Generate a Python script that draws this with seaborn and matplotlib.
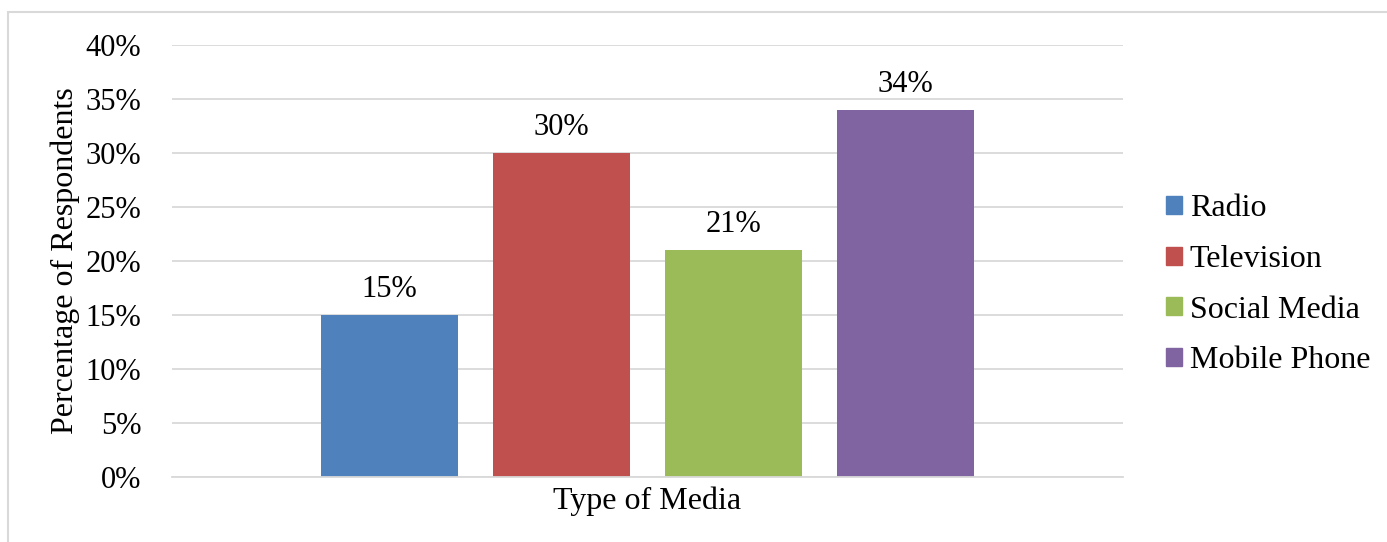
import matplotlib
matplotlib.use("Agg")
import matplotlib.pyplot as plt
import matplotlib.patches as mpatches
import seaborn as sns
import pandas as pd
from matplotlib.ticker import PercentFormatter

# Survey results: preferred type of media
media = ["Radio", "Television", "Social Media", "Mobile Phone"]
share = [15, 30, 21, 34]
colors = ["#4F81BD", "#C0504D", "#9BBB59", "#8064A2"]
y_ticks = [0, 5, 10, 15, 20, 25, 30, 35, 40]

df = pd.DataFrame({"group": ["Type of Media"] * len(media),
                   "media": media, "share": share})

sns.set_theme(style="white")
plt.rcParams["font.family"] = ["Liberation Serif", "DejaVu Serif"]
plt.rcParams["text.color"] = "black"
plt.rcParams["axes.labelcolor"] = "black"
plt.rcParams["ytick.color"] = "black"

FS = 22
FS_LAB = 23
W, H = 1387, 542
fig = plt.figure(figsize=(W / 100, H / 100), dpi=100)
ax = fig.add_axes([172 / W, 1 - 477 / H, (1123 - 172) / W, (477 - 45) / H])

# Light frame around the chart area
fig.patches.append(mpatches.Rectangle((8 / W, -0.05), 1.2, 1 - 12 / H + 0.05,
                                      transform=fig.transFigure, fill=False,
                                      edgecolor="#d9d9d9", linewidth=1.5))

sns.barplot(data=df, x="group", y="share", hue="media", hue_order=media,
            palette=colors, width=0.7234, gap=0.209, ax=ax, legend=True,
            saturation=1, errorbar=None, linewidth=0)

ax.set_xlim(-0.5, 0.5)
ax.set_ylim(0, 40)
ax.set_yticks(y_ticks)
ax.yaxis.set_major_formatter(PercentFormatter(decimals=0))
ax.grid(axis="y", color="#d9d9d9", linewidth=1.3)
ax.set_axisbelow(True)
for side in ["top", "right", "left"]:
    ax.spines[side].set_visible(False)
ax.spines["bottom"].set_color("#d9d9d9")
ax.spines["bottom"].set_linewidth(1.3)
ax.tick_params(axis="y", length=0, pad=22, labelsize=FS, labelcolor="black")
ax.tick_params(axis="x", length=0)
ax.set_xticks([])
ax.set_xlabel("Type of Media", fontsize=FS_LAB, labelpad=7, color="black")
ax.set_ylabel("Percentage of Respondents", fontsize=FS_LAB, labelpad=4, color="black")

for cont in ax.containers:
    ax.bar_label(cont, fmt="%g%%", fontsize=FS, padding=8, color="black")

handles = [mpatches.Patch(color=c) for c in colors]
ax.legend(handles, media, loc="center left", bbox_to_anchor=(1123 / W + 0.0106, 0.4745),
          bbox_transform=fig.transFigure, frameon=False, fontsize=FS_LAB,
          handlelength=0.5, handleheight=0.5, handletextpad=0.23,
          labelspacing=0.68, labelcolor="black")

fig.savefig("out.png", dpi=100)
